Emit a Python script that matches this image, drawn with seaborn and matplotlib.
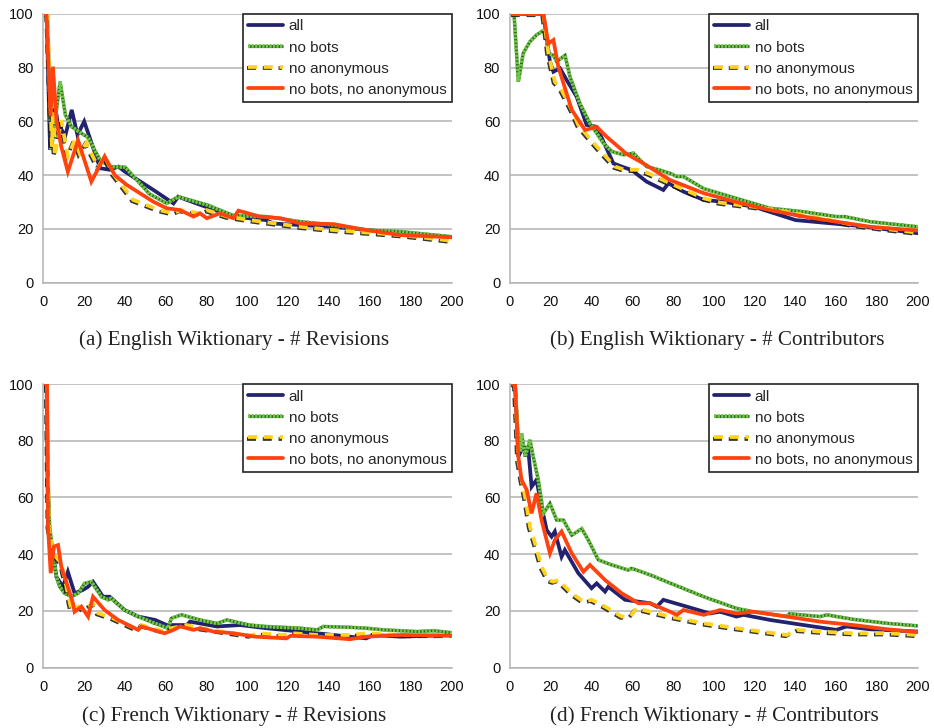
import matplotlib
matplotlib.use("Agg")
import matplotlib.pyplot as plt
import matplotlib.patheffects as pe
import seaborn as sns
import pandas as pd

# ---------------- data ----------------
series_names = ["all", "no bots", "no anonymous", "no bots, no anonymous"]
captions = ["(a) English Wiktionary - # Revisions",
            "(b) English Wiktionary - # Contributors",
            "(c) French Wiktionary - # Revisions",
            "(d) French Wiktionary - # Contributors"]
x_ticks = list(range(0, 201, 20))
y_ticks = list(range(0, 101, 20))

# (a) English Wiktionary - # Revisions
a_all_x = [1, 1.6, 3.3, 4.9, 7, 10.6, 13.9, 16.7, 20, 27.8, 32.6, 36.7, 40, 53.9, 63.7, 66, 76.7, 93, 109, 112.7, 142, 175, 200]
a_all_y = [100, 100, 49.4, 69, 60, 54.3, 64.3, 55, 60, 42.6, 42, 43.2, 41.3, 34.5, 29.5, 32, 29, 24.6, 23.3, 22, 20.8, 18.4, 16.9]
a_nob_x = [1, 2, 3.9, 8.2, 10.8, 13.9, 17.8, 21.9, 27.8, 32.6, 40, 52, 60.4, 66, 80, 93, 109, 126, 142, 158, 175, 200]
a_nob_y = [100, 100, 49.4, 74.8, 62.4, 58, 56, 54, 45.6, 43.2, 43, 33, 29.5, 32, 29, 25, 24.6, 22.7, 21.5, 19.6, 19, 17.1]
a_noa_x = [1, 2, 4.2, 4.9, 5.6, 8.8, 12, 15.3, 17.8, 21, 26.8, 30, 34, 44, 57, 63.7, 67, 76.7, 80, 90, 101, 126, 142, 175, 200]
a_noa_y = [100, 100, 50.6, 70, 47, 60.5, 47, 53, 48, 52, 43, 47, 40.7, 30.8, 27, 25.8, 27, 25.8, 27, 24.6, 23.3, 20.8, 19.6, 17.7, 15.6]
a_nbna_x = [1, 1.5, 3.5, 4.7, 6.4, 8.8, 12, 17, 23.5, 30, 35, 40.8, 53.9, 60.4, 67, 73.5, 76.7, 80, 86.5, 93, 95.5, 106, 116, 126, 142, 158, 175, 200]
a_nbna_y = [100, 100, 62, 80.4, 60.5, 50.6, 41.3, 53, 37.6, 47, 40, 36.4, 30.1, 27.7, 27, 24.6, 25.8, 24, 25.8, 24, 26.8, 24.6, 24, 22, 21.8, 19.6, 17.7, 16.9]

# (b) English Wiktionary - # Contributors
b_all_x = [1, 16.4, 19.6, 21.3, 24.5, 27.8, 32.7, 37.6, 42.5, 50.7, 54.8, 59.7, 67, 75.2, 77.7, 85, 95, 104.7, 119.4, 140, 170, 200]
b_all_y = [100, 100, 82.3, 78.5, 79.8, 75.4, 69.2, 58.7, 58, 44.4, 43.2, 41.9, 37.6, 34.5, 37, 33.9, 30.8, 30.1, 28.3, 23.3, 21.2, 18.4]
b_nob_x = [1, 2, 4.1, 6.5, 9.8, 13, 16.3, 17.2, 18.8, 21.3, 22.9, 27, 29.4, 34.3, 39.2, 45.8, 50, 55.6, 60.5, 67, 73.6, 78.5, 81.8, 85, 95, 111, 127.5, 144, 160, 164, 176.6, 200]
b_nob_y = [100, 100, 74.8, 85.4, 89.7, 92.2, 93.8, 94, 85.4, 84.6, 82.3, 84.6, 76.7, 66.7, 59.3, 51.9, 48.8, 47.6, 48.2, 43.2, 41.9, 40.7, 39.5, 39.5, 35, 31.4, 27.7, 26.4, 24.6, 24.6, 22.7, 20.8]
b_noa_x = [1, 16.4, 18.8, 22, 25.3, 30.3, 33.5, 38.4, 44, 51.5, 56.4, 63, 67.9, 78.5, 95, 103, 119, 135.7, 152, 168.4, 185, 200]
b_noa_y = [100, 100, 85.4, 74.8, 71.7, 64.3, 58.7, 54.3, 49.4, 43.2, 42, 42, 40.7, 37, 31.4, 29.8, 28.3, 26.4, 24, 21.5, 19.9, 18.6]
b_nbna_x = [1, 16.4, 18.8, 21.3, 23.7, 30.3, 36.8, 42.5, 47.4, 54, 57, 65.4, 78.5, 95, 111, 127.5, 144, 160, 176.6, 200]
b_nbna_y = [100, 100, 89, 90.3, 80.4, 64.3, 56.8, 58, 54.3, 50, 48, 44.4, 38.2, 33.3, 30, 27, 24.6, 22.7, 20.8, 19.4]

# (c) French Wiktionary - # Revisions
c_all_x = [1, 1.6, 2.3, 4.7, 6.4, 9.6, 12, 15.3, 19.4, 21.9, 24.3, 29.2, 32.5, 39.8, 46.4, 54.7, 60.4, 70.2, 71.8, 85, 96.3, 109, 125.7, 142, 158, 161.6, 174.7, 200]
c_all_y = [100, 100, 49.7, 40.3, 32, 28.5, 33.8, 26.2, 27.4, 28.5, 30.3, 25, 25, 20.3, 18, 16.8, 15, 15, 16.2, 14.5, 15, 13.9, 12.7, 11.5, 10.3, 11.5, 10.9, 11.5]
c_nob_x = [1, 1.8, 2.3, 3.1, 4.7, 6.4, 8, 10.4, 13.7, 17, 20.2, 23.5, 28.4, 31.7, 33.3, 39.8, 46.4, 54.5, 61, 62.7, 67.6, 76.7, 85, 89.8, 101, 109, 125.7, 134, 137, 150, 158, 166.5, 183, 191, 200]
c_nob_y = [100, 100, 67.3, 49.7, 40.3, 32, 28.5, 26.2, 25, 26.2, 29.7, 30.3, 25, 23.9, 24.4, 20.3, 18, 15.6, 13.9, 17.4, 18.6, 16.8, 15.6, 16.8, 15, 14.5, 13.9, 13.3, 14.5, 14.2, 13.9, 13.3, 12.7, 13, 12.3]
c_noa_x = [1, 1.8, 2.6, 4.7, 8.8, 11.3, 13.7, 17, 20.2, 21.9, 24.3, 26.8, 34.1, 44.7, 47.2, 48, 59.4, 62.7, 67, 70.2, 76.7, 93, 101, 106, 117, 122, 134, 150, 158, 175, 200]
c_noa_y = [100, 100, 49.7, 40.3, 36.8, 28.5, 20.3, 21.5, 20.3, 21.5, 22.7, 19.2, 17.4, 13.9, 13.9, 15, 12.7, 13.9, 14.5, 15, 13.9, 12.1, 11.3, 12.1, 11.5, 12.1, 11.5, 11.5, 12.1, 11.5, 11.5]
c_nbna_x = [1, 1.8, 2.3, 3.6, 5.2, 7.2, 8.8, 12, 14.5, 15.3, 18.6, 21.9, 24.3, 30, 36.6, 46.4, 48, 59.4, 63.7, 67, 73.5, 76.7, 83.3, 93, 103.7, 119, 121, 134, 150, 158, 175, 200]
c_nbna_y = [100, 100, 49.7, 33.3, 42.7, 43.2, 35.6, 28.5, 22.7, 19.7, 21.5, 18, 25, 20.3, 16.8, 13.3, 14.5, 12.1, 13.3, 14.5, 13.3, 13.9, 12.7, 12.1, 10.9, 10.3, 11.2, 10.9, 10, 10.9, 11.5, 11.2]

# (d) French Wiktionary - # Contributors
d_all_x = [1, 2.5, 4.1, 6.5, 9, 10.6, 13, 15.5, 18, 20.4, 22, 25.3, 26.9, 33.5, 40, 42.5, 46.6, 48.2, 56.4, 68.7, 72, 75.2, 86.7, 98, 103, 111, 114.5, 127.5, 144, 160, 165, 176.6, 200]
d_all_y = [100, 100, 74.4, 78, 76.8, 63.8, 66.2, 56.8, 48.5, 46.2, 48, 39.1, 41.5, 33.3, 28, 29.7, 26.8, 28.5, 23.9, 22.7, 21.5, 23.9, 21.5, 19.1, 19.7, 18, 18.6, 16.8, 15, 13.3, 14.5, 13.5, 12.7]
d_nob_x = [1, 2.5, 4.1, 4.9, 5.7, 7.4, 9.8, 11.4, 13.9, 16.4, 19.6, 22.9, 26.2, 30.3, 35.2, 38.4, 43.3, 49.9, 58, 59.7, 68.7, 78.5, 95, 111, 119.4, 135.7, 137, 152, 155.3, 168.4, 185, 200]
d_nob_y = [100, 100, 80.3, 76.1, 82.6, 74.4, 80.3, 74.4, 66.2, 54.4, 57.9, 52, 52, 46.7, 49, 45, 38, 36.2, 34.4, 35, 32.7, 29.8, 25, 20.9, 19.7, 18, 19, 18, 18.6, 17, 15.6, 14.7]
d_noa_x = [1, 2.5, 4.1, 5.7, 7.4, 9.8, 12.3, 15.5, 18.8, 21.3, 23.7, 30.3, 36, 40, 46.6, 54.8, 58.9, 62, 65.4, 78.5, 95, 111, 135.7, 140.6, 152, 168.4, 185, 200]
d_noa_y = [100, 100, 73, 66.2, 60.3, 49.7, 43.8, 35.6, 30.9, 30.3, 30.9, 26.2, 23.3, 23.9, 21.5, 18, 18, 20.9, 20.3, 18, 15.6, 13.9, 11.5, 13.3, 12.7, 12.1, 12.1, 11.5]
d_nbna_x = [1, 2.5, 4.1, 5.7, 8.2, 10.6, 13, 15.5, 19.6, 22, 25.3, 30.3, 36, 39.2, 46.6, 54.8, 63, 68.7, 78.5, 81.8, 85, 95, 103, 111, 119.4, 135.7, 152, 168.4, 185, 200]
d_nbna_y = [100, 100, 74.4, 66.2, 62.7, 54.4, 61.5, 52, 40.3, 45, 48, 40.3, 33.8, 36.2, 30.9, 26.2, 22.7, 22.7, 19.7, 18.6, 20.3, 18.6, 20.3, 19.1, 19.7, 18, 16.2, 15, 13.5, 12.5]

panels = [
    [(a_all_x, a_all_y), (a_nob_x, a_nob_y), (a_noa_x, a_noa_y), (a_nbna_x, a_nbna_y)],
    [(b_all_x, b_all_y), (b_nob_x, b_nob_y), (b_noa_x, b_noa_y), (b_nbna_x, b_nbna_y)],
    [(c_all_x, c_all_y), (c_nob_x, c_nob_y), (c_noa_x, c_noa_y), (c_nbna_x, c_nbna_y)],
    [(d_all_x, d_all_y), (d_nob_x, d_nob_y), (d_noa_x, d_noa_y), (d_nbna_x, d_nbna_y)],
]

# ---------------- style ----------------
sns.set_theme(style="white")
plt.rcParams["font.family"] = ["Liberation Sans", "DejaVu Sans"]

LW = 2.7
styles = [
    dict(color="#22226e", linewidth=LW, linestyle="-"),
    dict(color="#72c84a", linewidth=LW, linestyle=(0, (0.6, 0.35)),
         path_effects=[pe.Stroke(linewidth=LW * 0.85, foreground="#2f6a1f",
                                 dashes=dict(dash_offset=0, dash_list=None)),
                       pe.Normal()]),
    dict(color="#ffd320", linewidth=LW, linestyle=(0, (2.4, 1.8)),
         path_effects=[pe.SimpleLineShadow(offset=(-0.9, -0.9), shadow_color="#111111", alpha=0.85),
                       pe.Normal()]),
    dict(color="#ff420e", linewidth=LW, linestyle="-"),
]
order = [0, 1, 2, 3]

fig = plt.figure(figsize=(9.34, 7.28), dpi=100)
positions = [
    [0.0464, 0.6117, 0.4375, 0.3691],
    [0.5460, 0.6117, 0.4368, 0.3691],
    [0.0464, 0.0830, 0.4375, 0.3894],
    [0.5460, 0.0830, 0.4368, 0.3894],
]
caption_pos = [(0.251, 0.533), (0.768, 0.533), (0.251, 0.0165), (0.765, 0.0165)]
grid_col = "#b3b3b3"

for p, (pos, series) in enumerate(zip(positions, panels)):
    ax = fig.add_axes(pos)
    for i in order:
        xs, ys = series[i]
        df = pd.DataFrame({"x": xs, "y": ys})
        sns.lineplot(data=df, x="x", y="y", ax=ax, label=series_names[i],
                     estimator=None, sort=False, legend=False,
                     solid_joinstyle="miter", dash_joinstyle="miter", **styles[i])
    ax.set_xlim(0, 200)
    ax.set_ylim(0, 100)
    ax.set_xticks(x_ticks)
    ax.set_xticks(list(range(10, 200, 20)), minor=True)
    ax.set_yticks(y_ticks)
    ax.set_xlabel("")
    ax.set_ylabel("")
    ax.yaxis.grid(True, color=grid_col, linewidth=1.1)
    ax.xaxis.grid(False)
    ax.set_axisbelow(True)
    for s in ["top", "right"]:
        ax.spines[s].set_visible(False)
    for s in ["left", "bottom"]:
        ax.spines[s].set_color(grid_col)
        ax.spines[s].set_linewidth(1.1)
    ax.tick_params(axis="both", which="both", direction="out", color=grid_col,
                   width=1.1, labelsize=10.5, labelcolor="#111111", pad=2)
    ax.tick_params(axis="x", which="both", length=7)
    ax.tick_params(axis="y", which="major", length=5)
    handles, labels = ax.get_legend_handles_labels()
    hl = dict(zip(labels, handles))
    leg = ax.legend([hl[n] for n in series_names], series_names,
                    loc="upper right", bbox_to_anchor=(1.0, 1.0),
                    borderaxespad=0.0, fancybox=False, framealpha=1,
                    edgecolor="#222222", fontsize=11, handlelength=2.3,
                    handletextpad=0.35, labelspacing=0.46, borderpad=0.36)
    leg.get_frame().set_linewidth(1.2)
    fig.text(caption_pos[p][0], caption_pos[p][1], captions[p],
             ha="center", va="center", fontsize=15.2,
             family=["Liberation Serif", "DejaVu Serif"], color="#222222")

fig.savefig("out.png", dpi=100)
